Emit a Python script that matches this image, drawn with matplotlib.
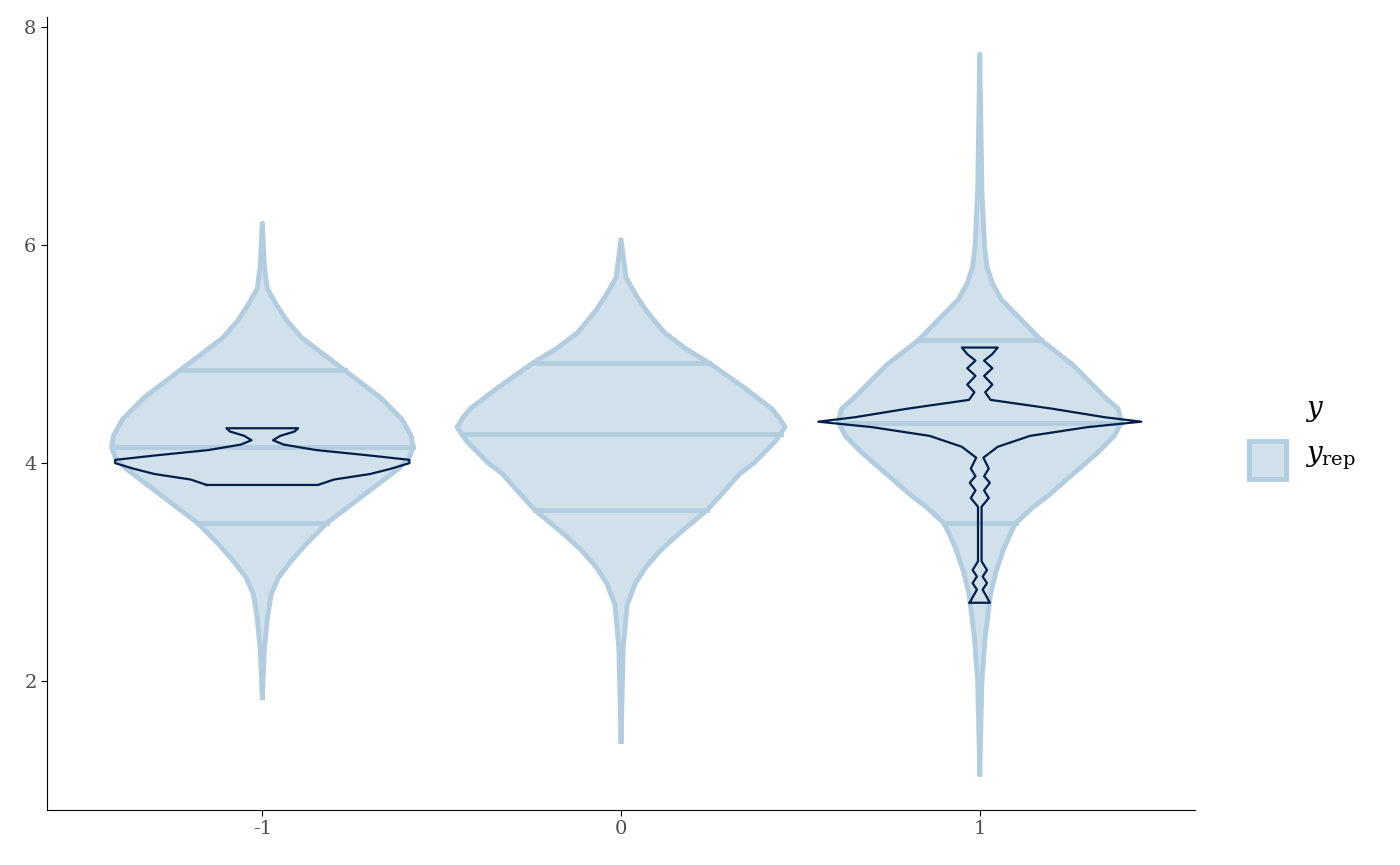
import matplotlib.pyplot as plt
import numpy as np
from matplotlib.patches import Rectangle

plt.rcParams['font.family'] = ['DejaVu Serif']
plt.rcParams['mathtext.fontset'] = 'dejavuserif'

groups = [-1, 0, 1]

# replicated-data violins: (y, half width)
rep_y = [
    [1.85, 2.3, 2.6, 2.8, 2.95, 3.1, 3.25, 3.45, 3.6, 3.8, 3.95, 4.05, 4.15, 4.25, 4.4,
     4.6, 4.85, 5.0, 5.15, 5.3, 5.45, 5.6, 5.8, 6.2],
    [1.45, 2.3, 2.7, 2.9, 3.05, 3.2, 3.35, 3.57, 3.75, 3.9, 4.0, 4.1, 4.2, 4.33, 4.42,
     4.5, 4.7, 4.92, 5.05, 5.2, 5.4, 5.55, 5.7, 6.05],
    [1.15, 2.0, 2.4, 2.8, 3.0, 3.2, 3.35, 3.45, 3.6, 3.7, 3.9, 4.1, 4.25, 4.38, 4.5,
     4.6, 4.7, 4.9, 5.13, 5.3, 5.4, 5.5, 5.65, 5.8, 6.0, 6.5, 7.75],
]
rep_w = [
    [0.0, 0.006, 0.015, 0.025, 0.045, 0.08, 0.12, 0.18, 0.24, 0.32, 0.38, 0.41, 0.42,
     0.415, 0.39, 0.33, 0.23, 0.17, 0.11, 0.07, 0.04, 0.014, 0.006, 0.0],
    [0.0, 0.006, 0.017, 0.04, 0.07, 0.11, 0.16, 0.24, 0.29, 0.33, 0.37, 0.40, 0.43,
     0.457, 0.44, 0.42, 0.34, 0.245, 0.18, 0.12, 0.07, 0.04, 0.014, 0.0],
    [0.0, 0.006, 0.015, 0.03, 0.045, 0.065, 0.085, 0.10, 0.15, 0.19, 0.26, 0.33, 0.375,
     0.395, 0.385, 0.35, 0.32, 0.26, 0.17, 0.12, 0.09, 0.06, 0.035, 0.02, 0.013, 0.006, 0.0],
]
rep_q = [[3.45, 4.15, 4.85], [3.57, 4.27, 4.92], [3.45, 4.37, 5.13]]

# observed-data violins (group -1 and 1)
obs_groups = [-1, 1]
obs_y = [
    [3.8, 3.85, 3.9, 3.95, 4.0, 4.03, 4.07, 4.12, 4.17, 4.21, 4.25, 4.29, 4.32],
    [2.72, 2.77, 2.84, 2.9, 2.96, 3.02, 3.1, 3.6, 3.68, 3.75, 3.82, 3.88, 3.95, 4.05,
     4.15, 4.25, 4.33, 4.38, 4.42, 4.5, 4.58, 4.65, 4.72, 4.8, 4.87, 4.94, 5.0, 5.06],
]
obs_w = [
    [0.155, 0.2, 0.3, 0.36, 0.41, 0.41, 0.3, 0.15, 0.06, 0.03, 0.05, 0.09, 0.1],
    [0.028, 0.02, 0.008, 0.02, 0.008, 0.02, 0.005, 0.005, 0.025, 0.012, 0.028, 0.012,
     0.025, 0.01, 0.05, 0.14, 0.3, 0.45, 0.35, 0.2,
     0.03, 0.015, 0.035, 0.012, 0.035, 0.012, 0.035, 0.05],
]

fill_c = '#d1e1ec'
edge_c = '#b3cde0'
obs_c = '#011f4b'

fig = plt.figure(figsize=(14, 8.65), dpi=100)
ax = fig.add_axes([0.0336, 0.0636, 0.82, 0.9167])

for g, ys, ws, qs in zip(groups, rep_y, rep_w, rep_q):
    ys = np.array(ys); ws = np.array(ws)
    ax.fill_betweenx(ys, g - ws, g + ws, facecolor=fill_c, edgecolor='none', zorder=1)
    ax.plot(np.r_[g - ws, (g + ws)[::-1]], np.r_[ys, ys[::-1]], color=edge_c, lw=3.5,
            solid_joinstyle='round', zorder=2)
    for q in qs:
        hw = np.interp(q, ys, ws)
        ax.plot([g - hw, g + hw], [q, q], color=edge_c, lw=3.5, zorder=2)

for g, ys, ws in zip(obs_groups, obs_y, obs_w):
    ys = np.array(ys); ws = np.array(ws)
    xs = np.r_[g - ws, (g + ws)[::-1], g - ws[0]]
    yy = np.r_[ys, ys[::-1], ys[0]]
    ax.plot(xs, yy, color=obs_c, lw=1.6, zorder=3)

ax.set_xlim(-1.6, 1.6)
ax.set_ylim(0.82, 8.09)
ax.set_xticks(groups)
ax.set_xticklabels([str(g) for g in groups])
ax.set_yticks([2, 4, 6, 8])
ax.spines['top'].set_visible(False)
ax.spines['right'].set_visible(False)
ax.tick_params(labelsize=14, colors='black', labelcolor='#4d4d4d', length=4)

# legend
fig.text(1305 / 1400, 1 - 410 / 865, '$y$', fontsize=20, va='center')
fig.patches.append(Rectangle((1249 / 1400, 1 - 479 / 865), 37 / 1400, 38 / 865,
                             transform=fig.transFigure, facecolor=fill_c,
                             edgecolor=edge_c, lw=3.5))
fig.text(1305 / 1400, 1 - 458 / 865, r'$y_{\mathrm{rep}}$', fontsize=20, va='center')

fig.savefig('out.png')
